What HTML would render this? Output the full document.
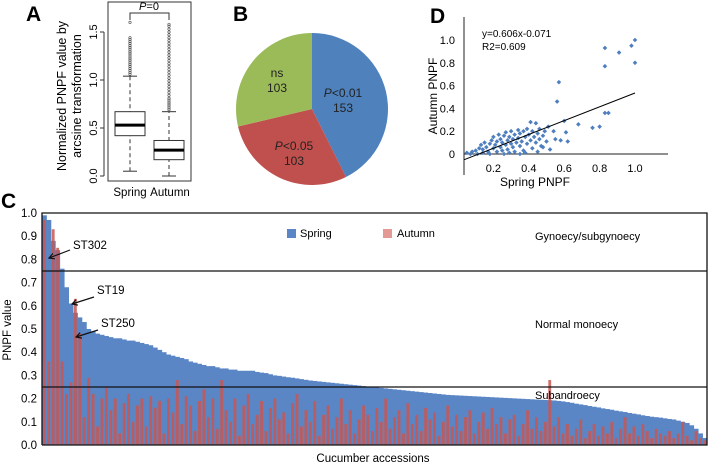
<!DOCTYPE html>
<html><head><meta charset="utf-8"><style>
html,body{margin:0;padding:0;background:#fff;}
svg{display:block;font-family:"Liberation Sans",Arial,sans-serif;}
</style></head><body>
<svg id="fig" width="709" height="474" viewBox="0 0 709 474" xmlns="http://www.w3.org/2000/svg">
<text x="26" y="21" font-size="21" font-weight="bold">A</text>
<text x="233" y="21" font-size="21" font-weight="bold">B</text>
<text x="430" y="23" font-size="21" font-weight="bold">D</text>
<text x="1" y="208" font-size="21" font-weight="bold">C</text>

<g id="panelA">
  <rect x="108" y="2" width="83" height="179" fill="none" stroke="#333" stroke-width="1"/>
  <g id="aTicks"></g>
  <text transform="translate(66,96) rotate(-90)" font-size="12.5" text-anchor="middle">Normalized  PNPF value by</text>
  <text transform="translate(81,96) rotate(-90)" font-size="12.5" text-anchor="middle">arcsine transformation</text>
  <g id="aBoxes"></g>
  <path d="M130,20 V13 H169 V20" fill="none" stroke="#333" stroke-width="1"/>
  <text x="149" y="10" font-size="11" text-anchor="middle"><tspan font-style="italic">P</tspan>=0</text>
  <text x="130" y="196" font-size="11.5" text-anchor="middle">Spring</text>
  <text x="170" y="196" font-size="11.5" text-anchor="middle">Autumn</text>
</g>

<g id="panelB"></g>
<g id="panelD"></g>
<g id="panelC"></g>
</svg>
<script>
// ---------- Panel A data ----------
const boxGroups = ["Spring","Autumn"];
const boxQ1 = [0.42, 0.17];
const boxMedian = [0.53, 0.27];
const boxQ3 = [0.67, 0.37];
const boxWhiskLo = [0.05, 0.0];
const boxWhiskHi = [1.04, 0.67];
const springOutliers = [1.06,1.08,1.1,1.12,1.14,1.16,1.18,1.2,1.22,1.24,1.26,1.28,1.3,1.32,1.34,1.36,1.38,1.4,1.42,1.44,1.6];
const autumnOutliers = [0.69,0.71,0.73,0.75,0.77,0.79,0.81,0.84,0.87,0.9,0.93,0.96,0.99,1.02,1.05,1.08,1.11,1.14,1.17,1.2,1.23,1.26,1.29,1.32,1.35,1.38,1.41,1.44,1.47,1.5,1.53,1.56,1.58];
const aTickVals = [0.0,0.5,1.0,1.5];
const aTickLabels = ["0.0","0.5","1.0","1.5"];

// ---------- Panel B data ----------
const pieLabels = ["P<0.01","P<0.05","ns"];
const pieValues = [153,103,103];
const pieColors = ["#4f81bd","#c0504d","#9bbb59"];

// ---------- Panel D data ----------
const scatterX = [0.05,0.08,0.1,0.12,0.13,0.14,0.15,0.16,0.17,0.18,0.19,0.2,0.2,0.21,0.22,0.22,0.23,0.24,0.24,0.25,0.25,0.26,0.27,0.27,0.28,0.28,0.29,0.3,0.3,0.31,0.31,0.32,0.32,0.33,0.34,0.34,0.35,0.35,0.36,0.37,0.37,0.38,0.39,0.39,0.4,0.41,0.41,0.42,0.42,0.43,0.44,0.44,0.45,0.46,0.46,0.47,0.48,0.49,0.5,0.51,0.11,0.14,0.26,0.35,0.45,0.07,0.18,0.29,0.38,0.48,1.0,0.98,0.91,0.83,0.83,1.0,0.57,0.56,0.83,0.85,0.76,0.8,0.68,0.6,0.61,0.62,0.55,0.54,0.58,0.52];
const scatterY = [0.01,0.02,0.03,0.05,0.08,0.04,0.1,0.06,0.02,0.09,0.12,0.05,0.15,0.08,0.11,0.02,0.17,0.06,0.13,0.1,0.03,0.16,0.08,0.19,0.12,0.04,0.15,0.09,0.2,0.06,0.13,0.17,0.02,0.1,0.21,0.14,0.07,0.18,0.11,0.2,0.03,0.15,0.09,0.22,0.17,0.12,0.28,0.05,0.2,0.15,0.1,0.27,0.18,0.13,0.22,0.07,0.16,0.2,0.11,0.24,0.0,0.01,0.0,0.0,0.02,0.0,0.0,0.01,0.01,0.06,1.0,0.95,0.89,0.93,0.77,0.8,0.63,0.46,0.36,0.36,0.23,0.24,0.26,0.29,0.19,0.11,0.13,0.2,0.12,0.04];
const dXTicks = [0.2,0.4,0.6,0.8,1.0];
const dXTickLabels = ["0.2","0.4","0.6","0.8","1.0"];
const dYTicks = [0,0.2,0.4,0.6,0.8,1.0];
const dYTickLabels = ["0","0.2","0.4","0.6","0.8","1.0"];
const fitSlope = 0.606, fitIntercept = -0.071;

// ---------- Panel C data ----------
const springPNPF = [0.99,0.97,0.88,0.84,0.76,0.68,0.61,0.57,0.55,0.53,
0.50,0.49,0.48,0.475,0.47,0.465,0.46,0.46,0.455,0.45,
0.45,0.445,0.44,0.435,0.43,0.42,0.41,0.40,0.39,0.385,
0.38,0.375,0.37,0.36,0.355,0.35,0.345,0.34,0.34,0.335,
0.33,0.33,0.325,0.325,0.32,0.32,0.32,0.32,0.315,0.312,
0.31,0.305,0.30,0.298,0.295,0.292,0.29,0.287,0.284,0.281,
0.278,0.276,0.274,0.272,0.27,0.268,0.266,0.264,0.262,0.26,
0.258,0.256,0.254,0.252,0.25,0.248,0.246,0.244,0.242,0.24,
0.238,0.236,0.234,0.232,0.23,0.228,0.226,0.224,0.222,0.22,
0.218,0.216,0.215,0.214,0.213,0.212,0.211,0.21,0.209,0.208,
0.207,0.206,0.205,0.204,0.203,0.202,0.201,0.2,0.199,0.198,
0.197,0.196,0.195,0.194,0.193,0.192,0.19,0.188,0.185,0.182,
0.178,0.175,0.172,0.168,0.165,0.162,0.158,0.155,0.152,0.148,
0.145,0.142,0.138,0.135,0.132,0.128,0.125,0.122,0.12,0.118,
0.115,0.112,0.11,0.105,0.1,0.095,0.085,0.07,0.05,0.03];
const autumnPNPF = [0.97,0.36,0.93,0.85,0.36,0.22,0.27,0.63,0.48,0.12,
0.29,0.22,0.08,0.2,0.25,0.15,0.2,0.05,0.18,0.22,
0.1,0.17,0.2,0.08,0.21,0.16,0.19,0.05,0.2,0.14,
0.28,0.09,0.21,0.17,0.06,0.19,0.24,0.12,0.2,0.07,
0.28,0.15,0.1,0.2,0.04,0.17,0.22,0.09,0.13,0.19,
0.06,0.16,0.2,0.11,0.14,0.05,0.18,0.22,0.08,0.15,
0.1,0.19,0.04,0.13,0.17,0.07,0.12,0.2,0.09,0.15,
0.05,0.11,0.17,0.13,0.06,0.16,0.1,0.2,0.07,0.12,
0.15,0.05,0.18,0.09,0.13,0.06,0.16,0.11,0.14,0.04,
0.1,0.17,0.08,0.13,0.06,0.12,0.15,0.05,0.1,0.14,
0.07,0.16,0.09,0.12,0.05,0.11,0.13,0.04,0.09,0.15,
0.07,0.12,0.06,0.1,0.28,0.08,0.12,0.05,0.09,0.04,
0.07,0.11,0.03,0.06,0.09,0.04,0.08,0.05,0.1,0.03,
0.07,0.12,0.05,0.08,0.04,0.09,0.06,0.03,0.07,0.05,
0.04,0.06,0.03,0.05,0.1,0.04,0.02,0.06,0.03,0.02];
const cYTicks = [0,0.1,0.2,0.3,0.4,0.5,0.6,0.7,0.8,0.9,1.0];
const cYTickLabels = ["0.0","0.1","0.2","0.3","0.4","0.5","0.6","0.7","0.8","0.9","1.0"];
const thresholds = [0.75,0.25];

const NS="http://www.w3.org/2000/svg";
function mk(tag, attrs, parent, txt){
  const e=document.createElementNS(NS,tag);
  for(const k in attrs) e.setAttribute(k,attrs[k]);
  if(txt!==undefined) e.textContent=txt;
  parent.appendChild(e); return e;
}

// ===== Panel A =====
(function(){
  const yA = v => 176 - v*96;
  const xA = i => [130,169][i];
  const ticks=document.getElementById('aTicks');
  mk('line',{x1:104,y1:yA(0),x2:104,y2:yA(1.5),stroke:'#333'},ticks);
  aTickVals.forEach((v,i)=>{
    const t=mk('line',{x1:100,y1:yA(v),x2:104,y2:yA(v),stroke:'#333'},ticks);
    
    
    const l=mk('text',{transform:`translate(97,${yA(v)}) rotate(-90)`,'font-size':11,'text-anchor':'middle'},ticks,aTickLabels[i]);
    
    
  });
  const g=document.getElementById('aBoxes');
  const outs=[springOutliers,autumnOutliers];
  boxGroups.forEach((name,i)=>{
    const cx=xA(i), hw=15;
    const w=mk('line',{x1:cx,y1:yA(boxWhiskLo[i]),x2:cx,y2:yA(boxWhiskHi[i]),stroke:'#333','stroke-dasharray':'4,3'},g);
    
    
    [boxWhiskLo[i],boxWhiskHi[i]].forEach(v=>{
      const c=mk('line',{x1:cx-7,y1:yA(v),x2:cx+7,y2:yA(v),stroke:'#333'},g);
      
      
    });
    const r=mk('rect',{x:cx-hw,y:yA(boxQ3[i]),width:hw*2,height:yA(boxQ1[i])-yA(boxQ3[i]),fill:'#fff',stroke:'#333'},g);
    
    
    const m=mk('line',{x1:cx-hw,y1:yA(boxMedian[i]),x2:cx+hw,y2:yA(boxMedian[i]),stroke:'#000','stroke-width':3},g);
    
    
    outs[i].forEach(v=>{
      const o=mk('circle',{cx:cx,cy:yA(v),r:1.2,fill:'none',stroke:'#444','stroke-width':0.6},g);
      
      
    });
  });
})();

// ===== Panel B =====
(function(){
  const g=document.getElementById('panelB');
  const cx=312, cy=109, R=76;
  const total=pieValues.reduce((a,b)=>a+b,0);
  let a0=0;
  const names=['slice-p001','slice-p005','slice-ns'];
  pieValues.forEach((v,i)=>{
    const a1=a0+v/total*2*Math.PI;
    const p=(a)=>[cx+R*Math.sin(a), cy-R*Math.cos(a)];
    const [x0,y0]=p(a0),[x1,y1]=p(a1);
    const large=(a1-a0)>Math.PI?1:0;
    const s=mk('path',{d:`M${cx},${cy} L${x0},${y0} A${R},${R} 0 ${large} 1 ${x1},${y1} Z`,fill:pieColors[i]},g);
    
    
    a0=a1;
  });
  const labs=[[343,97],[294,150],[277,77]];
  pieLabels.forEach((l,i)=>{
    const t=mk('text',{x:labs[i][0],y:labs[i][1],'font-size':12,'text-anchor':'middle',fill:'#222'},g);
    
    
    if(l.startsWith('P')){ mk('tspan',{'font-style':'italic'},t,'P'); mk('tspan',{},t,l.slice(1)); }
    else t.textContent=l;
    const n=mk('text',{x:labs[i][0],y:labs[i][1]+15,'font-size':12,'text-anchor':'middle',fill:'#222'},g,String(pieValues[i]));
    
    
  });
})();

// ===== Panel D =====
(function(){
  const g=document.getElementById('panelD');
  const xD=v=>458+v*177, yD=v=>154-v*114;
  const ax=mk('path',{d:'M464,17 V175 M464,154 H668',stroke:'#222',fill:'none'},g);
  
  
  dXTicks.forEach((v,i)=>{
    const t=mk('text',{x:xD(v),y:172,'font-size':11,'text-anchor':'middle'},g,dXTickLabels[i]);
    
    
  });
  dYTicks.forEach((v,i)=>{
    const t=mk('text',{x:455,y:yD(v)+4,'font-size':11,'text-anchor':'end'},g,dYTickLabels[i]);
    
    
  });
  const xt=mk('text',{x:535,y:186,'font-size':12,'text-anchor':'middle'},g,'Spring PNPF');
  
  
  const yt=mk('text',{transform:'translate(437,96) rotate(-90)','font-size':12,'text-anchor':'middle'},g,'Autumn PNPF');
  
  
  const e1=mk('text',{x:482,y:37,'font-size':10},g,'y=0.606x-0.071');
  
  
  const e2=mk('text',{x:482,y:50,'font-size':10},g,'R2=0.609');
  
  
  scatterX.forEach((xv,i)=>{
    const px=xD(xv), py=yD(scatterY[i]);
    const d=mk('path',{d:`M${px},${py-2.3} L${px+2.3},${py} L${px},${py+2.3} L${px-2.3},${py} Z`,fill:'#4f7fbf'},g);
    
    
  });
  const x0=0.035,x1=1.0;
  const fl=mk('line',{x1:xD(x0),y1:yD(fitSlope*x0+fitIntercept),x2:xD(x1),y2:yD(fitSlope*x1+fitIntercept),stroke:'#000','stroke-width':1},g);
  
  
})();

// ===== Panel C =====
(function(){
  const g=document.getElementById('panelC');
  const L=42,Rr=707,T=213,B=445;
  const yC=v=>B-v*(B-T);
  const n=springPNPF.length, bw=(Rr-L)/n;
  const xC=i=>L+i*bw;
  springPNPF.forEach((v,i)=>{
    const r=mk('rect',{x:xC(i),y:yC(v),width:bw+0.4,height:B-yC(v),fill:'#5a86c5'},g);
    
    
  });
  autumnPNPF.forEach((v,i)=>{
    const r=mk('rect',{x:xC(i)+bw*0.2,y:yC(v),width:bw*0.65,height:B-yC(v),fill:'#c85752','fill-opacity':0.85},g);
    
    
  });
  const fr=mk('path',{d:`M${L},${B} V${T} H${Rr} V${B} H${L}`,stroke:'#111',fill:'none','stroke-width':1.3},g);
  
  
  thresholds.forEach(v=>{
    const l=mk('line',{x1:L,y1:yC(v),x2:Rr,y2:yC(v),stroke:'#111','stroke-width':1.2},g);
    
    
  });
  cYTicks.forEach((v,i)=>{
    const t=mk('text',{x:37,y:yC(v)+4,'font-size':11.5,'text-anchor':'end'},g,cYTickLabels[i]);
    
    
  });
  const yt=mk('text',{transform:'translate(11,330) rotate(-90)','font-size':11.5,'text-anchor':'middle'},g,'PNPF value');
  
  
  const xt=mk('text',{x:373,y:462,'font-size':11.5,'text-anchor':'middle'},g,'Cucumber accessions');
  
  
  const ls=mk('rect',{x:287,y:229,width:9,height:9,fill:'#5a86c5'},g);
  
  
  const lt=mk('text',{x:300,y:237,'font-size':11},g,'Spring');
  
  
  const la=mk('rect',{x:383,y:229,width:9,height:9,fill:'#e39a95'},g);
  
  
  const lat=mk('text',{x:397,y:237,'font-size':11},g,'Autumn');
  
  
  const regions=[['Gynoecy/subgynoecy',240,'region-label-gynoecy'],['Normal monoecy',328,'region-label-monoecy'],['Subandroecy',399,'region-label-subandroecy']];
  regions.forEach(r=>{
    const t=mk('text',{x:535,y:r[1],'font-size':11},g,r[0]);
    
    
  });
  const arrows=[['ST302',73,249,70,250,49,258],['ST19',97,294,94,297,72,304],['ST250',101,327,98,330,76,337]];
  arrows.forEach(a=>{
    const t=mk('text',{x:a[1],y:a[2],'font-size':11.5},g,a[0]);
    
    
    const [x1,y1,x2,y2]=[a[3],a[4],a[5],a[6]];
    const ang=Math.atan2(y2-y1,x2-x1);
    const h=6;
    const p1=[x2-h*Math.cos(ang-0.5),y2-h*Math.sin(ang-0.5)], p2=[x2-h*Math.cos(ang+0.5),y2-h*Math.sin(ang+0.5)];
    const ar=mk('path',{d:`M${x1},${y1} L${x2},${y2} M${p1[0]},${p1[1]} L${x2},${y2} L${p2[0]},${p2[1]}`,stroke:'#111',fill:'none','stroke-width':1.2},g);
    
    
  });
})();
</script>
</body></html>
